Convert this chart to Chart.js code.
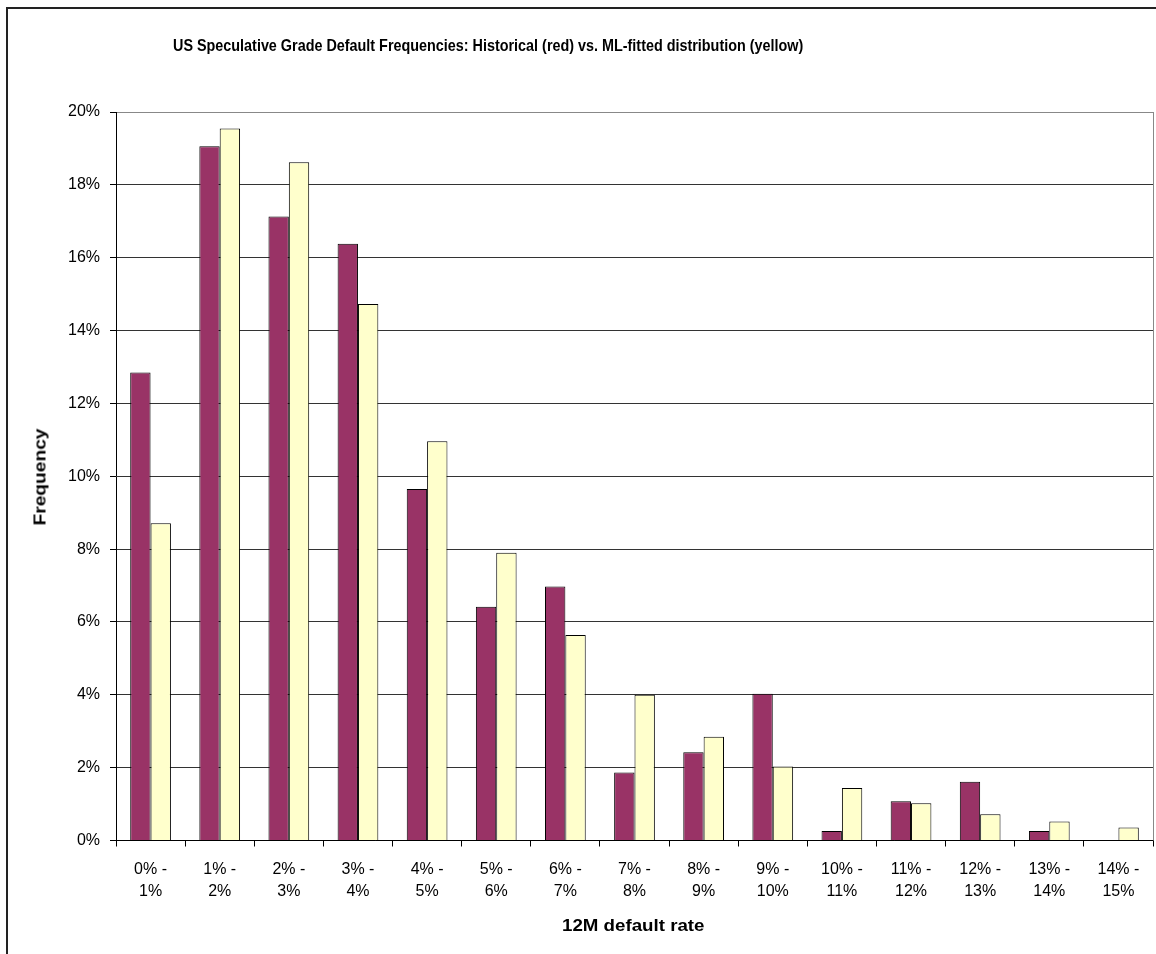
<!DOCTYPE html>
<html>
<head>
<meta charset="utf-8">
<script src="https://cdn.jsdelivr.net/npm/chart.js@4/dist/chart.umd.min.js"></script>
<style>
  html, body { margin: 0; padding: 0; background: #fff; width: 1156px; height: 954px; overflow: hidden; }
  #frame { position: absolute; left: 6px; top: 7px; width: 1200px; height: 1000px; border: 2px solid #222; box-sizing: border-box; }
  #wrap { position: absolute; left: 0; top: 0; width: 1156px; height: 954px; }
  .lbl { position: absolute; font-family: 'Liberation Sans', Arial, sans-serif; font-weight: bold; font-size: 17px; line-height: 1; white-space: nowrap; color: #000; }
  #title { transform-origin: 0 0; }
  #xtitle { transform-origin: 0 0; }
</style>
</head>
<body>
<div id="frame"></div>
<div id="wrap"><canvas id="c" width="1156" height="954"></canvas></div>
<div id="title" class="lbl">US Speculative Grade Default Frequencies: Historical (red) vs. ML-fitted distribution (yellow)</div>
<div id="xtitle" class="lbl">12M default rate</div>
<div id="ytitle" class="lbl">Frequency</div>
<script>
// ---- data ----
const categories = [
  ['0% -', '1%'], ['1% -', '2%'], ['2% -', '3%'], ['3% -', '4%'], ['4% -', '5%'],
  ['5% -', '6%'], ['6% -', '7%'], ['7% -', '8%'], ['8% -', '9%'], ['9% -', '10%'],
  ['10% -', '11%'], ['11% -', '12%'], ['12% -', '13%'], ['13% -', '14%'], ['14% -', '15%']
];
const historical = [12.85, 19.06, 17.13, 16.38, 9.65, 6.42, 6.97, 1.87, 2.42, 4.03, 0.26, 1.08, 1.61, 0.26, 0];
const mlFitted   = [8.71, 19.55, 18.62, 14.73, 10.96, 7.90, 5.64, 4.00, 2.85, 2.03, 1.44, 1.02, 0.72, 0.52, 0.36];
const yMin = 0, yMax = 20, yStep = 2;

// ---- text placement ----
function fitWidth(id, left, top, targetW) {
  const el = document.getElementById(id);
  const w = el.offsetWidth;
  el.style.left = left + 'px';
  el.style.top = top + 'px';
  el.style.transform = 'scaleX(' + (targetW / w) + ')';
}
fitWidth('title', 173, 37, 630);
fitWidth('xtitle', 562, 917, 142);
(function () {
  const el = document.getElementById('ytitle');
  const w = el.offsetWidth;
  const s = 97 / w;
  el.style.left = '39.5px';
  el.style.top = '476.7px';
  el.style.transform = 'translate(-50%,-50%) rotate(-90deg) scaleX(' + s + ')';
})();

// ---- chart ----
const plotBorder = {
  id: 'plotBorder',
  beforeDatasetsDraw(chart) {
    const a = chart.chartArea, ctx = chart.ctx;
    ctx.save();
    ctx.strokeStyle = '#888';
    ctx.lineWidth = 1;
    ctx.beginPath();
    ctx.moveTo(Math.round(a.right) + 0.5, a.top);
    ctx.lineTo(Math.round(a.right) + 0.5, a.bottom);
    ctx.stroke();
    ctx.restore();
  }
};

Chart.defaults.font.family = "'Liberation Sans', Arial, sans-serif";
Chart.defaults.color = '#000';

new Chart(document.getElementById('c'), {
  type: 'bar',
  data: {
    labels: categories,
    datasets: [
      { label: 'Historical', data: historical, backgroundColor: '#993366', borderColor: '#000', borderWidth: 1 },
      { label: 'ML-fitted', data: mlFitted, backgroundColor: '#FFFFCC', borderColor: '#000', borderWidth: 1 }
    ]
  },
  options: {
    responsive: false,
    animation: false,
    devicePixelRatio: 1,
    layout: { padding: { top: 112, right: 3, left: 0, bottom: 0 } },
    plugins: { legend: { display: false }, title: { display: false }, tooltip: { enabled: false } },
    datasets: { bar: { categoryPercentage: 0.589, barPercentage: 1.0 } },
    scales: {
      x: {
        offset: true,
        grid: { display: true, offset: true, drawOnChartArea: false, drawTicks: true, tickLength: 6, color: '#000' },
        border: { display: true, color: '#000', width: 1 },
        ticks: { font: { size: 16, lineHeight: 1.375 }, padding: 12, maxRotation: 0, autoSkip: false, color: '#000' },
        afterFit(scale) { scale.height = 954 - 840.5; }
      },
      y: {
        min: yMin, max: yMax,
        grid: {
          color: (c) => (c.tick && c.tick.value === yMax ? '#888' : '#333'),
          tickColor: '#000',
          tickLength: 6, drawTicks: true
        },
        border: { display: true, color: '#000', width: 1 },
        ticks: { stepSize: yStep, font: { size: 16 }, padding: 10, color: '#000', callback: (v) => v + '%' },
        afterFit(scale) { scale.width = 116; }
      }
    }
  },
  plugins: [plotBorder]
});
</script>
</body>
</html>
